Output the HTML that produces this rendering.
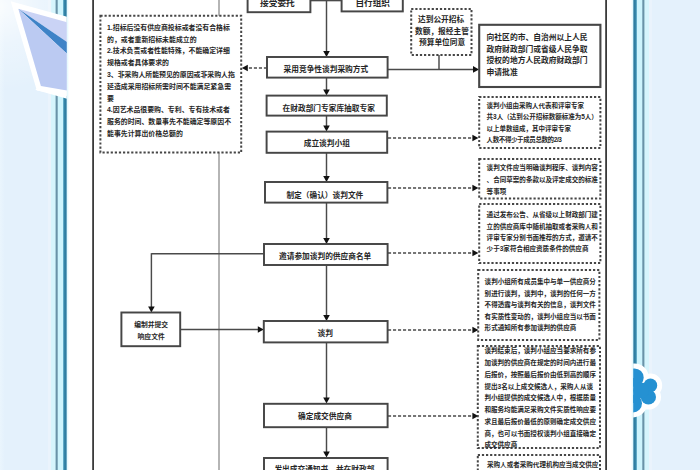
<!DOCTYPE html>
<html lang="zh-CN">
<head>
<meta charset="utf-8">
<title>竞争性谈判采购流程图</title>
<style>
html,body{margin:0;padding:0;background:#fff;}
body{width:700px;height:470px;overflow:hidden;position:relative;font-family:"Liberation Sans",sans-serif;}
svg{position:absolute;left:0;top:0;display:block;}
</style>
</head>
<body>
<svg width="700" height="470" viewBox="0 0 700 470" role="img" aria-label="竞争性谈判采购流程图">
<defs>
<linearGradient id="lg" x1="0" x2="1" y1="0" y2="0"><stop offset="0" stop-color="#eaf5fd"/><stop offset="0.1" stop-color="#e4f1fc"/><stop offset="1" stop-color="#e4f1fc"/></linearGradient>
<linearGradient id="rg" x1="0" x2="1" y1="0" y2="0"><stop offset="0" stop-color="#e4f1fc"/><stop offset="1" stop-color="#e4f1fc"/></linearGradient>
<linearGradient id="fl" x1="0" x2="1" y1="0" y2="0"><stop offset="0" stop-color="#dcf7fd"/><stop offset="1" stop-color="#ffffff"/></linearGradient>
<linearGradient id="fr" x1="0" x2="1" y1="0" y2="0"><stop offset="0" stop-color="#ffffff"/><stop offset="1" stop-color="#dcf7fd"/></linearGradient>
<radialGradient id="glow" gradientUnits="userSpaceOnUse" cx="2" cy="6" r="85"><stop offset="0" stop-color="#fff" stop-opacity="0.75"/><stop offset="0.45" stop-color="#fff" stop-opacity="0.3"/><stop offset="1" stop-color="#fff" stop-opacity="0"/></radialGradient>
<linearGradient id="bl" x1="0" x2="1" y1="0" y2="0"><stop offset="0" stop-color="#4a9dbd"/><stop offset="0.45" stop-color="#2f7fa3"/><stop offset="1" stop-color="#2d7ba0"/></linearGradient>
<linearGradient id="br" x1="0" x2="1" y1="0" y2="0"><stop offset="0" stop-color="#2d7ba0"/><stop offset="0.55" stop-color="#2f7fa3"/><stop offset="1" stop-color="#4a9dbd"/></linearGradient>
<clipPath id="cpl"><rect x="0" y="0" width="66.8" height="470"/></clipPath>
<clipPath id="cpr"><rect x="633.2" y="0" width="66.8" height="470"/></clipPath>
</defs>
<rect x="-10" y="-10" width="720" height="490" fill="#ffffff" />
<rect x="-10" y="-10" width="10" height="490" fill="#eaf5fd" />
<rect x="0" y="-10" width="48" height="490" fill="url(#lg)" />
<rect x="48" y="-10" width="3.3" height="490" fill="#eaf3fc" />
<rect x="51.3" y="-10" width="15.5" height="490" fill="#cdf4fd" />
<rect x="51.3" y="-10" width="4.3" height="490" fill="#d6f5fd" />
<rect x="55.6" y="-10" width="2.1" height="490" fill="#6a93a8" />
<rect x="63.2" y="-10" width="3.6" height="490" fill="url(#bl)" />
<rect x="66.8" y="-10" width="2.2" height="490" fill="url(#fl)" />
<rect x="652" y="-10" width="58" height="490" fill="#e4f1fc" />
<rect x="648.7" y="-10" width="3.3" height="490" fill="#eaf3fc" />
<rect x="633.2" y="-10" width="15.5" height="490" fill="#cdf4fd" />
<rect x="644.4" y="-10" width="4.3" height="490" fill="#d6f5fd" />
<rect x="642.3" y="-10" width="2.1" height="490" fill="#6a93a8" />
<rect x="633.2" y="-10" width="3.6" height="490" fill="url(#br)" />
<rect x="631" y="-10" width="2.2" height="490" fill="url(#fr)" />
<rect x="0" y="0" width="51.3" height="120" fill="url(#glow)" />
<g clip-path="url(#cpl)">
<polygon points="18.3,8.7 67.5,22.4 67.5,90.7 40.9,85.9" fill="#fff" stroke="#fff" stroke-width="10.4" stroke-linejoin="miter"/>
<polygon points="35.3,89.7 67.5,99 67.5,90 41,85" fill="#fff"/>
<polygon points="18.3,8.7 67.5,22.4 67.5,42.3" fill="#cad3f5"/>
<polygon points="18.3,8.7 67.5,42.3 67.5,54.1" fill="#3e83c7"/>
<polygon points="18.3,8.7 67.5,54.1 67.5,90.7 40.9,85.9" fill="#bbcaf2"/>
</g>
<g clip-path="url(#cpr)">
<g fill="#fff" stroke="#fff" stroke-width="10"><circle cx="634.5" cy="377.6" r="9.2"/><circle cx="650.4" cy="385.4" r="6.8"/><circle cx="648.4" cy="397" r="7.6"/><circle cx="633" cy="403.4" r="9"/><circle cx="641" cy="390.5" r="8"/><rect x="630" y="378" width="8" height="25"/></g>
<g fill="#2591d2"><circle cx="634.5" cy="377.6" r="9.2"/><circle cx="650.4" cy="385.4" r="6.8"/><circle cx="648.4" cy="397" r="7.6"/><circle cx="633" cy="403.4" r="9"/><circle cx="641" cy="390.5" r="8"/><rect x="630" y="378" width="8" height="25"/></g>
</g>
<rect x="92.2" y="-10" width="1.8" height="490" fill="#3a3a3a" />
<rect x="605.2" y="-10" width="1.8" height="490" fill="#3a3a3a" />
<rect x="218.2" y="-10" width="1.6" height="490" fill="#a4a4a4" />
<line x1="310" y1="0.6" x2="342" y2="0.6" stroke="#4a4a4a" stroke-width="1.45"/>
<line x1="326.5" y1="0" x2="326.5" y2="52" stroke="#4a4a4a" stroke-width="1.45"/>
<line x1="326.5" y1="77" x2="326.5" y2="90" stroke="#4a4a4a" stroke-width="1.45"/>
<line x1="326.5" y1="115.6" x2="326.5" y2="126" stroke="#4a4a4a" stroke-width="1.45"/>
<line x1="326.5" y1="153" x2="326.5" y2="177" stroke="#4a4a4a" stroke-width="1.45"/>
<line x1="326.5" y1="202.6" x2="326.5" y2="238" stroke="#4a4a4a" stroke-width="1.45"/>
<line x1="326.5" y1="265" x2="326.5" y2="315" stroke="#4a4a4a" stroke-width="1.45"/>
<line x1="326.5" y1="342.4" x2="326.5" y2="398" stroke="#4a4a4a" stroke-width="1.45"/>
<line x1="326.5" y1="427" x2="326.5" y2="452" stroke="#4a4a4a" stroke-width="1.45"/>
<polygon points="326.5,57 323.2,51.0 329.8,51.0" fill="#111"/>
<polygon points="326.5,95.6 323.2,89.6 329.8,89.6" fill="#111"/>
<polygon points="326.5,131.6 323.2,125.6 329.8,125.6" fill="#111"/>
<polygon points="326.5,182 323.2,176.0 329.8,176.0" fill="#111"/>
<polygon points="326.5,244 323.2,238.0 329.8,238.0" fill="#111"/>
<polygon points="326.5,321 323.2,315.0 329.8,315.0" fill="#111"/>
<polygon points="326.5,403.4 323.2,397.4 329.8,397.4" fill="#111"/>
<polygon points="326.5,457.6 323.2,451.6 329.8,451.6" fill="#111"/>
<line x1="267" y1="68" x2="246.5" y2="68" stroke="#4a4a4a" stroke-width="1.4" stroke-dasharray="3.1 1.9"/>
<polygon points="241.8,68 247.8,64.7 247.8,71.3" fill="#111"/>
<line x1="387.6" y1="69.4" x2="473" y2="69.4" stroke="#4a4a4a" stroke-width="1.45"/>
<polygon points="479,69.4 473.0,66.1 473.0,72.7" fill="#111"/>
<line x1="439" y1="55" x2="439" y2="69.4" stroke="#4a4a4a" stroke-width="1.45"/>
<line x1="388" y1="138" x2="473.5" y2="138" stroke="#4a4a4a" stroke-width="1.4" stroke-dasharray="3.1 1.9"/>
<polygon points="478.4,138 472.4,134.7 472.4,141.3" fill="#111"/>
<line x1="388" y1="188" x2="473.5" y2="188" stroke="#4a4a4a" stroke-width="1.4" stroke-dasharray="3.1 1.9"/>
<polygon points="478.4,188 472.4,184.7 472.4,191.3" fill="#111"/>
<line x1="388" y1="253" x2="473.5" y2="253" stroke="#4a4a4a" stroke-width="1.4" stroke-dasharray="3.1 1.9"/>
<polygon points="478.4,253 472.4,249.7 472.4,256.3" fill="#111"/>
<line x1="388" y1="330" x2="473.5" y2="330" stroke="#4a4a4a" stroke-width="1.4" stroke-dasharray="3.1 1.9"/>
<polygon points="478.4,330 472.4,326.7 472.4,333.3" fill="#111"/>
<line x1="388" y1="416" x2="473.5" y2="416" stroke="#4a4a4a" stroke-width="1.4" stroke-dasharray="3.1 1.9"/>
<polygon points="478.4,416 472.4,412.7 472.4,419.3" fill="#111"/>
<line x1="264" y1="253.8" x2="151.4" y2="253.8" stroke="#4a4a4a" stroke-width="1.45"/>
<line x1="151.4" y1="253.2" x2="151.4" y2="307" stroke="#4a4a4a" stroke-width="1.45"/>
<polygon points="151.4,312.5 148.1,306.5 154.7,306.5" fill="#111"/>
<line x1="180.2" y1="329.5" x2="258" y2="329.5" stroke="#4a4a4a" stroke-width="1.45"/>
<polygon points="263.8,329.5 257.8,326.2 257.8,332.8" fill="#111"/>
<rect x="247.6" y="-5" width="62.8" height="17.2" fill="#fff" stroke="#464646" stroke-width="1.95"/>
<rect x="341.6" y="-5" width="61.2" height="16.4" fill="#fff" stroke="#464646" stroke-width="1.95"/>
<rect x="100.4" y="15.8" width="140.8" height="136.8" fill="#fff" stroke="#464646" stroke-width="2.0" stroke-dasharray="2.2 1.9"/>
<rect x="411.2" y="8.9" width="60.3" height="46.1" fill="#fff" stroke="#464646" stroke-width="2.0" stroke-dasharray="2.2 1.9"/>
<rect x="479.2" y="24.8" width="121.2" height="62.2" fill="#fff" stroke="#464646" stroke-width="2.1"/>
<rect x="267" y="57" width="120.6" height="20.6" fill="#fff" stroke="#464646" stroke-width="1.95"/>
<rect x="266.6" y="95.6" width="120.2" height="20.0" fill="#fff" stroke="#464646" stroke-width="1.95"/>
<rect x="266.6" y="131.6" width="120.6" height="21.2" fill="#fff" stroke="#464646" stroke-width="1.95"/>
<rect x="265" y="182" width="122.4" height="20.6" fill="#fff" stroke="#464646" stroke-width="1.95"/>
<rect x="264" y="244" width="123.6" height="21" fill="#fff" stroke="#464646" stroke-width="1.95"/>
<rect x="263.8" y="321" width="123.8" height="21.4" fill="#fff" stroke="#464646" stroke-width="1.95"/>
<rect x="264" y="403.8" width="123.6" height="23.4" fill="#fff" stroke="#464646" stroke-width="1.95"/>
<rect x="264" y="458" width="123.6" height="22" fill="#fff" stroke="#464646" stroke-width="1.95"/>
<rect x="121.4" y="312.5" width="58.8" height="33.7" fill="#fff" stroke="#464646" stroke-width="1.95"/>
<rect x="479.2" y="97" width="121.2" height="51" fill="#fff" stroke="#464646" stroke-width="2.0" stroke-dasharray="2.2 1.9"/>
<rect x="479.2" y="159" width="121.2" height="39.6" fill="#fff" stroke="#464646" stroke-width="2.0" stroke-dasharray="2.2 1.9"/>
<rect x="479.2" y="204" width="121.2" height="59" fill="#fff" stroke="#464646" stroke-width="2.0" stroke-dasharray="2.2 1.9"/>
<rect x="478.2" y="270" width="121.2" height="70" fill="#fff" stroke="#464646" stroke-width="2.0" stroke-dasharray="2.2 1.9"/>
<rect x="477.8" y="346" width="122.2" height="102" fill="#fff" stroke="#464646" stroke-width="2.0" stroke-dasharray="2.2 1.9"/>
<rect x="477.8" y="455" width="122.2" height="25" fill="#fff" stroke="#464646" stroke-width="2.0" stroke-dasharray="2.2 1.9"/>
<g id="labels" fill="#262626" font-family="&quot;Liberation Sans&quot;, &quot;Noto Sans CJK SC&quot;, sans-serif" font-weight="bold">
<g font-size="8.7">
<text x="260" y="6.39">接受委托</text>
</g>
<g font-size="8.6">
<text x="355.45" y="6.19">自行组织</text>
</g>
<g font-size="6.9">
<text x="107" y="29.89">1.招标后没有供应商投标或者没有合格标</text>
<text x="107" y="41.66">的，或者重新招标未能成立的</text>
<text x="107" y="53.43">2.技术负责或者性能特殊，不能确定详细</text>
<text x="107" y="65.2">规格或者具体要求的</text>
<text x="107" y="76.97">3、非采购人所能预见的原因或非采购人拖</text>
<text x="107" y="88.74">延造成采用招标所需时间不能满足紧急需</text>
<text x="107" y="100.51">要</text>
<text x="107" y="112.28">4.因艺术品很要购、专利、专有技术或者</text>
<text x="107" y="124.05">服务的时间、数量事先不能确定等原因不</text>
<text x="107" y="135.82">能事先计算出价格总额的</text>
</g>
<g font-size="7.7">
<text x="418" y="21.67">达到公开招标</text>
<text x="415" y="33.67">数额，报经主管</text>
<text x="419" y="45.27">预算单位同意</text>
</g>
<g font-size="7.78">
<text x="486.6" y="40.11">向社区的市、自治州以上人民</text>
<text x="486.6" y="51.66">政府财政部门或省级人民争取</text>
<text x="486.6" y="63.21">授权的地方人民政府财政部门</text>
<text x="486.6" y="74.76">申请批准</text>
</g>
<g font-size="7.7">
<text x="283.6" y="72.27">采用竞争性谈判采购方式</text>
<text x="282.6" y="111.27">在财政部门专家库抽取专家</text>
<text x="303.7" y="146.37">成立谈判小组</text>
<text x="286.4" y="197.67">制定（确认）谈判文件</text>
<text x="279" y="258.67">邀请参加谈判的供应商名单</text>
<text x="317.6" y="336.17">谈判</text>
<text x="298" y="419.27">确定成交供应商</text>
<text x="274.4" y="471.87">发出成交通知书，并在财政部</text>
</g>
<g font-size="6.8">
<text x="134.2" y="326.62">编制并提交</text>
<text x="137.55" y="338.72">响应文件</text>
</g>
<g font-size="6.5">
<text x="486.6" y="107.88">谈判小组由采购人代表和评审专家</text>
<text x="486.6" y="119.38">共3人（达到公开招标数额标准为5人）</text>
<text x="486.6" y="130.88">以上单数组成，其中评审专家</text>
<text x="486.6" y="142.38" letter-spacing="-0.4">人数不得少于成员总数的2/3</text>
</g>
<g font-size="6.56">
<text x="486.6" y="170.28">谈判文件应当明确谈判程序、谈判内容</text>
<text x="486.6" y="181.98">、合同草案的条款以及评定成交的标准</text>
<text x="486.6" y="193.68">等事项</text>
</g>
<g font-size="6.56">
<text x="486.6" y="217.28">通过发布公告、从省级以上财政部门建</text>
<text x="486.6" y="228.68">立的供应商库中随机抽取或者采购人和</text>
<text x="486.6" y="240.08">评审专家分别书面推荐的方式，邀请不</text>
<text x="486.6" y="251.48">少于3家符合相应资质条件的供应商</text>
</g>
<g font-size="6.56">
<text x="484.6" y="284.28">谈判小组所有成员集中与单一供应商分</text>
<text x="484.6" y="295.83">别进行谈判，谈判中，谈判的任何一方</text>
<text x="484.6" y="307.38">不得透露与谈判有关的信息，谈判文件</text>
<text x="484.6" y="318.93">有实质性变动的，谈判小组应当以书面</text>
<text x="484.6" y="330.48">形式通知所有参加谈判的供应商</text>
</g>
<g font-size="6.57">
<text x="484.4" y="353.28">谈判结束后，谈判小组应当要求所有参</text>
<text x="484.4" y="365.03">加谈判的供应商在规定的时间内进行最</text>
<text x="484.4" y="376.78">后报价，按照最后报价由低到高的顺序</text>
<text x="484.4" y="388.53">提出3名以上成交候选人，采购人从谈</text>
<text x="484.4" y="400.28">判小组提供的成交候选人中，根据质量</text>
<text x="484.4" y="412.03">和服务均能满足采购文件实质性响应要</text>
<text x="484.4" y="423.78">求且最后报价最低的原则确定成交供应</text>
<text x="484.4" y="435.53">商，也可以书面授权谈判小组直接确定</text>
<text x="484.4" y="447.28">成交供应商</text>
</g>
<g font-size="6.56">
<text x="487" y="467.28">采购人或者采购代理机构应当成交供应</text>
</g>
</g>
</svg>
</body>
</html>
